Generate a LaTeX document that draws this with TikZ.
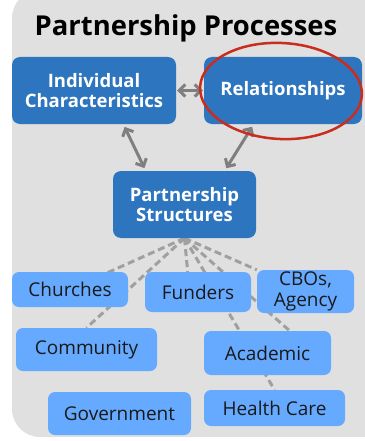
\documentclass[tikz,border=0pt]{standalone}
\usepackage{fontspec}
\setmainfont{Open Sans}
\usetikzlibrary{arrows.meta}

\definecolor{deepblue}{RGB}{46,117,192}
\definecolor{paleblue}{RGB}{102,170,255}
\definecolor{panelgray}{RGB}{224,224,224}
\definecolor{arrowgray}{RGB}{127,127,127}
\definecolor{dashgray}{RGB}{160,160,160}
\definecolor{circlered}{RGB}{200,45,30}

\pgfdeclarelayer{background}
\pgfsetlayers{background,main}

\begin{document}
\begin{tikzpicture}[x=1pt,y=-1pt]
	\tikzset{deepbox/.style={fill=deepblue, rounded corners=8pt, text=white, font=\fontsize{18.5}{20}\selectfont\bfseries, align=center, inner sep=0pt}}
	\tikzset{palebox/.style={fill=paleblue, rounded corners=7pt, text=black!90, font=\fontsize{19}{21}\selectfont, align=center, inner sep=0pt}}
	\tikzset{twoway/.style={{Straight Barb[length=6pt]}-{Straight Barb[length=6pt]}, line width=3pt, draw=arrowgray}}
	\tikzset{tie/.style={dashed, dash pattern=on 7pt off 4pt, line width=3pt, draw=dashgray}}

	\useasboundingbox (0,0) rectangle (364,441);
	\clip (0,0) rectangle (364,441);

	\begin{pgfonlayer}{background}
		\fill[panelgray, rounded corners=28pt] (12,-10) rectangle (400,437);
	\end{pgfonlayer}

	\node (title) at (186,28) {\fontsize{27.4}{30}\selectfont\bfseries Partnership Processes};

	\node[deepbox, minimum width=164pt, minimum height=67pt] (indiv) at (94,90.5) {Individual\\Characteristics};
	\node[deepbox, minimum width=158pt, minimum height=67pt] (rel) at (283,90.5) {Relationships};
	\node[deepbox, minimum width=143pt, minimum height=67pt] (struct) at (184.5,204.5) {Partnership\\Structures};

	\node[palebox, minimum width=116pt, minimum height=35pt] (churches) at (70,289.5) {Churches};
	\node[palebox, minimum width=106pt, minimum height=40pt] (funders) at (198,292) {Funders};
	\node[palebox, minimum width=97pt, minimum height=43pt] (cbos) at (305.5,291.5) {CBOs,\\Agency};
	\node[palebox, minimum width=141pt, minimum height=43pt] (community) at (86.5,349.5) {Community};
	\node[palebox, minimum width=127pt, minimum height=44pt] (academic) at (267.5,353) {Academic};
	\node[palebox, minimum width=143pt, minimum height=43pt] (government) at (119.5,413.5) {Government};
	\node[palebox, minimum width=141pt, minimum height=36pt] (health) at (274.5,408) {Health Care};

	% arrows between the processes
	\draw[twoway, shorten <=1pt, shorten >=1pt] (indiv.east) -- (rel.west);
	\draw[twoway, shorten <=3pt, shorten >=3pt] (indiv.-49) -- (struct.139);
	\draw[twoway, shorten <=3pt, shorten >=3pt] (rel.-131) -- (struct.40);

	% dashed ties, behind the boxes
	\begin{pgfonlayer}{background}
		\foreach \target in {churches.center, community.north, funders.117, health.north, academic.45, cbos.north west}
			\draw[tie] (struct.south) -- (\target);
	\end{pgfonlayer}

	\draw[circlered, line width=2.5pt, rotate around={-3:(281,91)}] (281,91) ellipse [x radius=81pt, y radius=48pt];
\end{tikzpicture}
\end{document}
